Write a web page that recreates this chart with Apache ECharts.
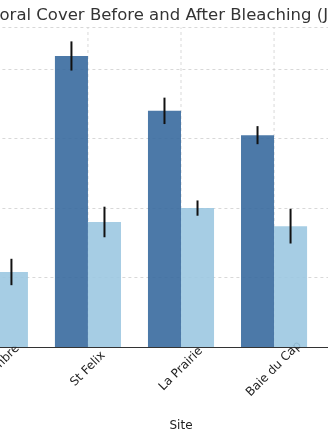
<!DOCTYPE html>
<html>
<head>
<meta charset="utf-8">
<script src="https://cdn.jsdelivr.net/npm/echarts@6/dist/echarts.min.js"></script>
<style>html,body{margin:0;padding:0;background:#fff}#chart{width:328px;height:440px}</style>
</head>
<body>
<div id="chart"></div>
<script>
const categories = ['Bel Ombre', 'St Felix', 'La Prairie', 'Baie du Cap'];
const beforeValues = [30.0, 41.9, 34.0, 30.5];
const afterValues = [10.8, 18.0, 20.0, 17.4];
const beforeErr = [2.0, 2.1, 1.9, 1.3];
const afterErr = [1.9, 2.2, 1.1, 2.5];
const yMin = 0, yMax = 46, yInterval = 10;
const titleText = 'Coral Cover Before and After Bleaching (June 2016)';
const xName = 'Site';

const font = 'DejaVu Sans';
const barFrac = 0.355;
const chart = echarts.init(document.getElementById('chart'), null, {renderer: 'canvas'});

function errSeries(vals, errs, side) {
  return {
    type: 'custom',
    z: 10,
    silent: true,
    encode: {x: 0, y: [1, 2]},
    data: vals.map((v, i) => [i, v - errs[i], v + errs[i]]),
    renderItem: function (params, api) {
      const i = api.value(0);
      const lo = api.coord([i, api.value(1)]);
      const hi = api.coord([i, api.value(2)]);
      const band = api.size([1, 0])[0];
      const x = lo[0] + side * band * barFrac / 2;
      return {
        type: 'line',
        shape: {x1: x, y1: lo[1], x2: x, y2: hi[1]},
        style: {stroke: '#111', lineWidth: 2}
      };
    }
  };
}

const vGridSeries = {
  type: 'custom',
  z: 1,
  silent: true,
  encode: {x: 0, y: [1, 2]},
  data: categories.map((c, i) => [i, yMin, yMax]),
  renderItem: function (params, api) {
    const lo = api.coord([api.value(0), api.value(1)]);
    const hi = api.coord([api.value(0), api.value(2)]);
    return {
      type: 'line',
      shape: {x1: lo[0], y1: lo[1], x2: hi[0], y2: hi[1]},
      style: {stroke: '#cfcfcf', lineWidth: 0.8, lineDash: [3, 3]}
    };
  }
};

chart.setOption({
  animation: false,
  graphic: [{
    type: 'text', left: -12, top: 7,
    style: {text: titleText, font: '16.5px "DejaVu Sans"', fill: '#333'}
  }],
  grid: {left: -51.6, right: -85.6, top: 27.5, bottom: 93, containLabel: false, outerBoundsMode: 'none'},
  xAxis: {
    type: 'category',
    data: categories,
    max: 4,
    boundaryGap: true,
    name: xName,
    nameLocation: 'middle',
    nameGap: 73,
    nameTextStyle: {fontFamily: font, fontSize: 12, color: '#222'},
    axisLine: {lineStyle: {color: '#333', width: 1}},
    axisTick: {alignWithLabel: true, length: 4, lineStyle: {color: '#333'}},
    axisLabel: {
      rotate: 45, align: 'center', verticalAlign: 'middle', margin: 22,
      fontFamily: font, fontSize: 12, color: '#222',
      interval: 0,
      formatter: v => (v == null || v === 'undefined') ? '' : v
    },
    splitLine: {show: false}
  },
  yAxis: {
    type: 'value', min: yMin, max: yMax, interval: yInterval,
    axisLine: {show: false}, axisTick: {show: false}, axisLabel: {show: false},
    splitLine: {lineStyle: {color: '#cfcfcf', type: [3, 3], width: 0.8}}
  },
  series: [
    vGridSeries,
    {
      name: 'Before', type: 'bar', data: beforeValues,
      barGap: '0%', barCategoryGap: '29%',
      itemStyle: {color: '#386a9f', opacity: 0.9}
    },
    {
      name: 'After', type: 'bar', data: afterValues,
      itemStyle: {color: '#9cc8e1', opacity: 0.9}
    },
    errSeries(beforeValues, beforeErr, -1),
    errSeries(afterValues, afterErr, 1)
  ]
});
</script>
</body>
</html>
